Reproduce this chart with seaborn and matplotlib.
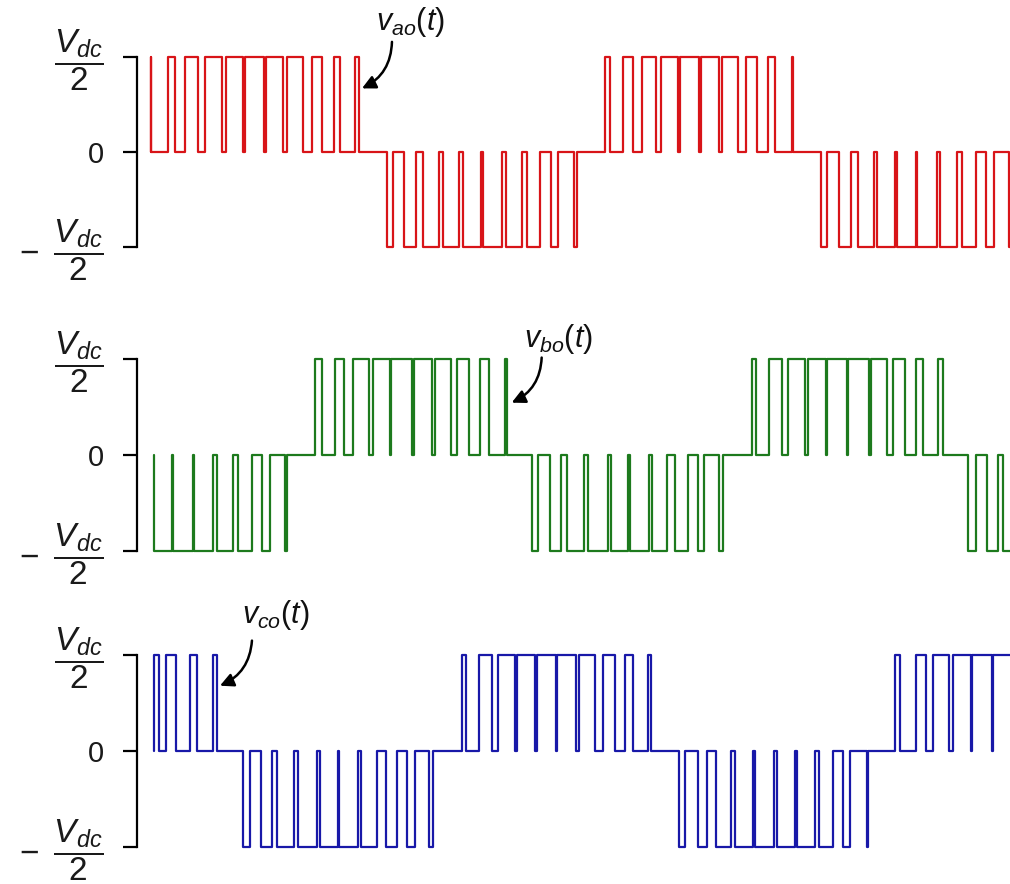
import pandas as pd
import matplotlib.pyplot as plt
import matplotlib.transforms as mtransforms
import seaborn as sns

sns.set_theme(style="white")
plt.rcParams["font.family"] = ["Liberation Sans", "DejaVu Sans"]
plt.rcParams["mathtext.fontset"] = "custom"
plt.rcParams["mathtext.rm"] = "Liberation Sans"
plt.rcParams["mathtext.it"] = "Liberation Sans:italic"
plt.rcParams["mathtext.bf"] = "Liberation Sans:bold"

# switching instants (time units, one fundamental period ~435)
# each pair = (switch on, switch off) of a +Vdc/2 ("high") or -Vdc/2 ("low") pulse
red_high = [(0, 0.3), (17.3, 24), (34, 47.3), (54, 70.7), (75, 92.3), (94.3, 113),
            (115, 132.3), (135.7, 152.3), (160.7, 170.7), (183, 189), (204.5, 208.5),
            (454, 459), (471.7, 482.3), (490.7, 505), (509.7, 527.3), (529.3, 548.3),
            (550.3, 568.3), (570.7, 587.3), (595, 606.3), (617.3, 624), (640.7, 642)]
red_low = [(235.7, 242.3), (253, 265), (272.3, 288.3), (291.7, 308.3), (312.3, 329.7),
           (331.7, 350.7), (355, 370.7), (376.3, 389), (399.7, 407.3), (423, 426.3),
           (670, 676.5), (688, 700), (707.3, 723), (726.5, 744.5), (746.5, 764.7),
           (766.5, 786), (789.5, 806), (811, 825), (835, 843), (858.3, 880)]

green_high = [(164, 170.7), (184, 193), (201.7, 218.3), (221.7, 239), (240.3, 260.7),
              (263, 280.7), (284, 299.7), (305.7, 318.3), (329, 338.3), (354, 355.7),
              (600.7, 605), (618.3, 630.7), (637.3, 654), (657.3, 675), (676.3, 695.7),
              (697, 718.3), (719.7, 736.3), (742.3, 754), (765, 771.7), (787.3, 791.7)]
green_low = [(3, 20.8), (22.3, 41.8), (43.3, 62.3), (66.3, 82.3), (87.3, 100.7),
             (110.7, 119), (134, 136.3),
             (380.7, 387.3), (399, 409.7), (416.3, 433), (437.3, 457.3), (459.7, 477.5),
             (479.3, 498.3), (500.7, 515.7), (524, 537.3), (547.3, 553), (568.3, 571.7),
             (817.3, 825), (835.7, 847.3), (852.3, 880)]

blue_high = [(3, 8.3), (15, 25), (39, 45.7), (61.7, 66.3),
             (310.7, 315), (328.3, 340.7), (347.3, 364), (366.3, 384), (385.7, 405),
             (406.3, 425), (428.3, 444), (452.3, 464), (474, 481.7), (497.3, 499.7),
             (744, 749), (765, 775), (782.3, 798.3), (802.3, 819.7), (821, 840.7), (842, 880)]
blue_low = [(92.3, 99), (110, 121), (126, 143), (147.3, 165.7), (169, 187),
            (188.5, 207.3), (209.7, 226.3), (235, 245.7), (255.7, 264), (278.3, 282.3),
            (528.3, 534), (547.3, 556.3), (565, 579.7), (584, 601.7), (604, 623),
            (625.7, 644), (646.3, 664), (668.3, 681.7), (691.7, 699), (715.7, 717)]

starts = {"a": 0, "b": 3, "c": 3}
names = [r"$v_{ao}(t)$", r"$v_{bo}(t)$", r"$v_{co}(t)$"]
colors = ["#d81418", "#1d7a1d", "#1818a8"]
tick_vals = [-1, 0, 1]
tick_labels = [r"$-\;\;\dfrac{V_{dc}}{2}$", "0", r"$\dfrac{V_{dc}}{2}$"]


def trace(start, high, low):
    pulses = sorted([(a, b, 1) for a, b in high] + [(a, b, -1) for a, b in low])
    t, v = [start], [0]
    for on, off, lev in pulses:
        t += [on, off]
        v += [lev, 0]
    return pd.DataFrame({"t": t, "v": v})


traces = [trace(starts["a"], red_high, red_low),
          trace(starts["b"], green_high, green_low),
          trace(starts["c"], blue_high, blue_low)]

# label position, arrow start, arrow tip (data coords of each panel)
notes = [((259, 1.37), (241, 1.16), (211, 0.67)),
         ((407, 1.21), (390.7, 1.02), (360.7, 0.55)),
         ((125, 1.42), (101, 1.15), (69, 0.68))]

rects = [[0.1356, 0.7098, 0.8644, 0.2364],
         [0.1356, 0.3653, 0.8644, 0.2389],
         [0.1356, 0.0310, 0.8644, 0.2389]]

fig = plt.figure(figsize=(10.1, 8.84), dpi=100)
lift = mtransforms.ScaledTranslation(0, 5 / 72, fig.dpi_scale_trans)

for df, col, name, note, rect in zip(traces, colors, names, notes, rects):
    ax = fig.add_axes(rect)
    sns.lineplot(data=df, x="t", y="v", ax=ax, color=col, lw=1.6,
                 drawstyle="steps-post", estimator=None, sort=False, legend=False)
    ax.set_xlim(-14, 859)
    ax.set_ylim(-1.1, 1.1)
    sns.despine(ax=ax, bottom=True)
    ax.spines["left"].set_bounds(-1, 1)
    ax.spines["left"].set_linewidth(1.6)
    ax.spines["left"].set_color("black")
    ax.set_xticks([])
    ax.set_yticks(tick_vals)
    ax.set_yticklabels(tick_labels)
    ax.tick_params(axis="y", left=True, length=10, width=1.6, color="black",
                   direction="out", pad=14, labelsize=21, labelcolor="#1a1a1a")
    for lab in ax.get_yticklabels():
        if lab.get_text() != "0":
            lab.set_fontsize(24)
            lab.set_transform(lab.get_transform() + lift)
    ax.set_xlabel("")
    ax.set_ylabel("")
    ax.patch.set_alpha(0)

    txt, src, tip = note
    ax.text(txt[0], txt[1], name, fontsize=22, ha="center", va="center", color="#111111")
    ax.annotate("", xy=tip, xytext=src, annotation_clip=False,
                arrowprops=dict(arrowstyle="-|>", connectionstyle="arc3,rad=-0.3",
                                color="black", lw=1.8, mutation_scale=20,
                                shrinkA=0, shrinkB=0))

fig.savefig("out.png", dpi=100)
